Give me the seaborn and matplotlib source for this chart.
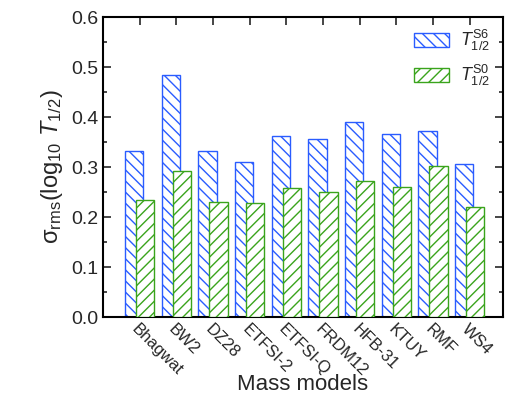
import numpy as np
import pandas as pd
import matplotlib
matplotlib.use("Agg")
import matplotlib.pyplot as plt
import seaborn as sns
from matplotlib.ticker import MultipleLocator, FormatStrFormatter, FixedLocator


# data
models = ['Bhagwat', 'BW2', 'DZ28', 'ETFSI-2', 'ETFSI-Q',
          'FRDM12', 'HFB-31', 'KTUY', 'RMF', 'WS4']
sigma_s6 = [0.333, 0.484, 0.332, 0.311, 0.363, 0.356, 0.390, 0.366, 0.372, 0.307]
sigma_s0 = [0.235, 0.293, 0.231, 0.228, 0.259, 0.251, 0.273, 0.261, 0.302, 0.221]
legend_labels = [r'$\mathit{T}^{\rm S6}_{1/2}$', r'$\mathit{T}^{\rm S0}_{1/2}$']

blue = '#2a5cff'
green = '#3aa41c'

sns.set_theme(style='ticks')
plt.rcParams['font.family'] = ['Liberation Sans', 'DejaVu Sans']
plt.rcParams['mathtext.fontset'] = 'custom'
plt.rcParams['mathtext.rm'] = 'Liberation Sans'
plt.rcParams['mathtext.it'] = 'Liberation Sans:italic'
plt.rcParams['hatch.linewidth'] = 1.0

pos = np.arange(len(models))

fig = plt.figure(figsize=(5.12, 3.99), dpi=100)
ax = fig.add_axes([0.201, 0.2055, 0.781, 0.7515])

# S6 bars (shifted left), then S0 bars on top (shifted right)
n0 = len(ax.patches)
sns.barplot(x=pos - 0.15, y=sigma_s6, native_scale=True, width=0.5,
            errorbar=None, ax=ax)
for p in ax.patches[n0:]:
    p.set_facecolor('white')
    p.set_edgecolor(blue)
    p.set_hatch('\\\\\\')
    p.set_linewidth(1.0)
    p.set_zorder(2)

n1 = len(ax.patches)
sns.barplot(x=pos + 0.15, y=sigma_s0, native_scale=True, width=0.5,
            errorbar=None, ax=ax)
for p in ax.patches[n1:]:
    p.set_facecolor('white')
    p.set_edgecolor(green)
    p.set_hatch('///')
    p.set_linewidth(1.0)
    p.set_zorder(3)

ax.set_xlim(-1.0, 9.9)
ax.set_ylim(0, 0.6)
ax.xaxis.set_major_locator(FixedLocator(pos))
ax.set_xticklabels(models, rotation=-45, ha='left', va='top',
                   rotation_mode='anchor', fontsize=12)
ax.yaxis.set_major_locator(MultipleLocator(0.1))
ax.yaxis.set_minor_locator(MultipleLocator(0.05))
ax.yaxis.set_major_formatter(FormatStrFormatter('%.1f'))
ax.tick_params(axis='y', labelsize=14)

ax.tick_params(which='both', direction='in', top=True, right=True, width=1.2)
ax.tick_params(which='major', length=6)
ax.tick_params(which='minor', length=3)
ax.tick_params(axis='x', pad=3)
for s in ax.spines.values():
    s.set_linewidth(1.5)
    s.set_color('black')

ax.set_xlabel('Mass models', fontsize=16)
ax.xaxis.set_label_coords(0.5, -0.19)
ax.set_ylabel(r'σ$_{\rm rms}$(log$_{10}$ $\mathit{T}_{1/2}$)', fontsize=17, labelpad=4)

handles = [ax.patches[n0], ax.patches[n1]]
ax.legend(handles, legend_labels, loc='upper right', frameon=False,
          fontsize=13, handlelength=1.95, handleheight=0.8,
          labelspacing=0.55, handletextpad=0.6, borderaxespad=0.2,
          bbox_to_anchor=(0.995, 1.0))

fig.savefig('out.png', dpi=100)
